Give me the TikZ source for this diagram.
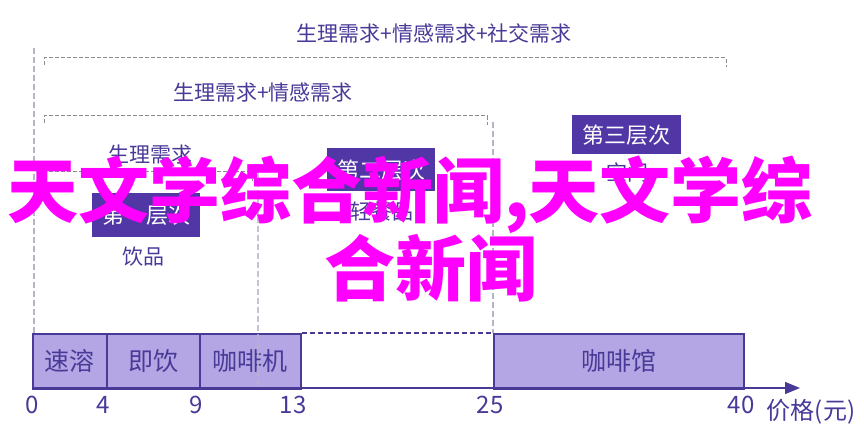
\documentclass[tikz,border=0pt]{standalone}
\usepackage{fontspec}
\setmainfont{Noto Sans CJK SC}
\usetikzlibrary{arrows.meta}
\definecolor{deep}{HTML}{4A3A98}
\definecolor{boxfill}{HTML}{5136A6}
\definecolor{barfill}{HTML}{B4A5E4}
\definecolor{guidegray}{HTML}{B5B5C8}
\definecolor{wmpink}{HTML}{FF00FF}
\begin{document}
\begin{tikzpicture}[x=1pt,y=-1pt,
    bar/.style={draw=deep, line width=1.6pt, fill=barfill, text=deep, anchor=north west,
        minimum height=55pt, inner sep=0pt, font=\fontsize{25}{28}\selectfont},
    layer/.style={fill=boxfill, text=white, inner sep=0pt, font=\fontsize{22}{26}\selectfont},
    lbl/.style={text=deep, inner sep=0pt, font=\fontsize{21}{24}\selectfont},
    tick/.style={text=deep, inner sep=0pt, font=\fontsize{24}{28}\selectfont},
    guide/.style={draw=guidegray, line width=2.5pt, dash pattern=on 6pt off 3pt},
    bracket/.style={draw=gray!90, line width=1pt, dash pattern=on 4pt off 2pt},
    wm/.style={text=wmpink, inner sep=0pt, font=\fontsize{71}{75}\selectfont\bfseries}]
        \useasboundingbox (0,0) rectangle (864,443);
        \fill[white] (0,0) rectangle (864,443);

        % guides
        \draw[guide] (34,48) -- (34,333);
        \draw[guide] (493,122) -- (493,333);

        % brackets
        \draw[bracket] (44,65) -- (44,58) -- (726,58) -- (726,67);
        \draw[bracket] (44,123) -- (44,116) -- (487,116) -- (487,125);
        \draw[bracket] (44,179) -- (44,172) -- (252,172) -- (252,181);

        \node[lbl] (need3) at (434,33) {生理需求+情感需求+社交需求};
        \node[lbl] (need2) at (263,93) {生理需求+情感需求};
        \node[lbl] (need1) at (150,155) {生理需求};

        \node[layer, minimum width=108pt, minimum height=44pt] (lv1) at (146,215) {第一层次};
        \node[lbl] (drink) at (143,257) {饮品};
        \node[layer, minimum width=108pt, minimum height=43pt] (lv2) at (381,170) {第二层次};
        \node[lbl] (food) at (382,212) {轻餐品};
        \node[layer, minimum width=109pt, minimum height=39pt] (lv3) at (626,135) {第三层次};
        \node[lbl] (space) at (627,172) {空间};

        % bars
        \node[bar, minimum width=74pt] (inst) at (32,333) {速溶};
        \node[bar, minimum width=93pt] (rtd) at (106,333) {即饮};
        \node[bar, minimum width=101pt] (mach) at (199,333) {咖啡机};
        \node[bar, minimum width=250pt] (shop) at (493,333) {咖啡馆};
        \draw[deep, line width=1.4pt, dash pattern=on 5pt off 3pt] (mach.north east) -- (shop.north west);
        \draw[guide, opacity=0.8] (258,172) -- (258,388);

        % axis
        \coordinate (o) at (32,388);
        \coordinate (xend) at (800,388);
        \draw[deep, line width=1.6pt, -{Triangle[length=15pt,width=12pt]}] (o) -- (xend);

        \node[tick] (t0) at (32,405) {0};
        \node[tick] (t4) at (103,405) {4};
        \node[tick] (t9) at (196,405) {9};
        \node[tick] (t13) at (293,405) {13};
        \node[tick] (t25) at (490,405) {25};
        \node[tick] (t40) at (741,405) {40};
        \node[tick] (unit) at (811,412) {价格(元)};

        \node[wm] (wm1) at (410,195) {天文学综合新闻,天文学综};
        \node[wm] (wm2) at (431,268) {合新闻};

    \end{tikzpicture}
\end{document}
